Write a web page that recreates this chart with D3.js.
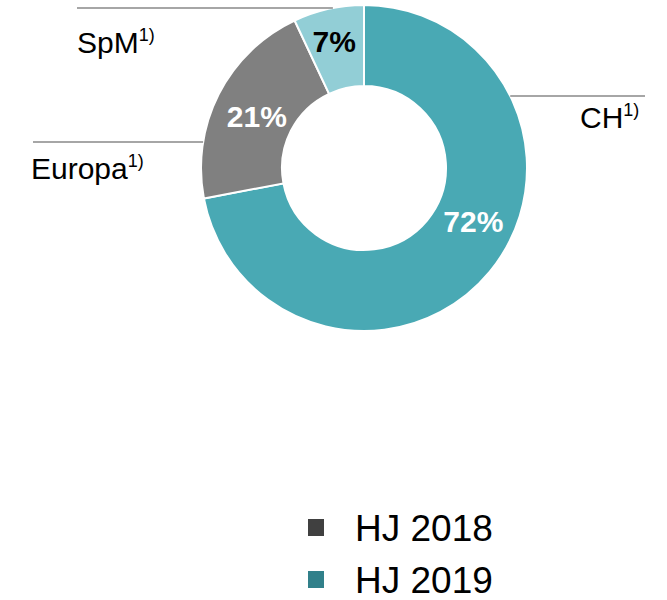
<!DOCTYPE html>
<html>
<head>
<meta charset="utf-8">
<script src="https://cdn.jsdelivr.net/npm/d3@7"></script>
<style>
  body { margin: 0; background: #fff; }
  text { font-family: "Liberation Sans", Arial, sans-serif; }
</style>
</head>
<body>
<svg width="667" height="600"></svg>
<script>
var categories = ['CH', 'Europa', 'SpM'];
var shares = [72, 21, 7];
var sliceColors = ['#49a9b4', '#808080', '#92ced6'];
var valueColors = ['#ffffff', '#ffffff', '#000000'];
var legendLabels = ['HJ 2018', 'HJ 2019'];
var legendColors = ['#404040', '#31808a'];

var svg = d3.select('svg');
var cx = 364, cy = 168;
var outerR = 163, innerR = 82;

var chartG = svg.append('g')
    .attr('transform', 'translate(' + [cx, cy] + ')');

var pie = d3.pie().sort(null).value(function(d) { return d; });
var arc = d3.arc().innerRadius(innerR).outerRadius(outerR);
var arcs = pie(shares);

chartG.selectAll('path.slice')
    .data(arcs)
    .enter()
    .append('path')
    .attr('class', 'slice')
    .attr('d', arc)
    .attr('fill', function(d, i) { return sliceColors[i]; })
    .attr('stroke', '#fff')
    .attr('stroke-width', 2);

// value labels: centroid plus a small nudge (CH, Europa, SpM)
var nudge = [[15, -25], [2, 4], [-3, -7]];
chartG.selectAll('text.value')
    .data(arcs)
    .enter()
    .append('text')
    .attr('class', 'value')
    .attr('x', function(d, i) { return arc.centroid(d)[0] + nudge[i][0]; })
    .attr('y', function(d, i) { return arc.centroid(d)[1] + nudge[i][1] + 11; })
    .attr('text-anchor', 'middle')
    .style('font-size', '30px')
    .style('font-weight', 'bold')
    .style('fill', function(d, i) { return valueColors[i]; })
    .text(function(d) { return d.data + '%'; });

// category labels with leader lines
var labelPos = [
  {lineY: 96, x: 580, base: 128, side: 'right', end: 645},
  {lineY: 142, x: 31, base: 179, side: 'left', end: 33},
  {lineY: 8, x: 77, base: 53, side: 'left', end: 77}
];

labelPos.forEach(function(p, i) {
  var dy = p.lineY - cy;
  var dx = Math.sqrt(outerR * outerR - dy * dy);
  var edge = p.side === 'right' ? cx + dx : cx - dx;
  svg.append('line')
      .attr('x1', p.end).attr('x2', edge)
      .attr('y1', p.lineY).attr('y2', p.lineY)
      .attr('stroke', '#a6a6a6')
      .attr('stroke-width', 2);

  var t = svg.append('text')
      .attr('x', p.x)
      .attr('y', p.base)
      .style('font-size', '30px')
      .style('fill', '#000');
  t.append('tspan').text(categories[i]);
  t.append('tspan')
      .attr('dy', -12)
      .style('font-size', '18px')
      .text('1)');
});

var legend = svg.append('g').attr('class', 'legend');
var legendY = d3.scalePoint().domain(legendLabels).range([527, 579]);

legend.selectAll('rect')
    .data(legendLabels)
    .enter()
    .append('rect')
    .attr('x', 308)
    .attr('y', function(d) { return legendY(d) - 8; })
    .attr('width', 16)
    .attr('height', 17)
    .attr('fill', function(d, i) { return legendColors[i]; });

legend.selectAll('text')
    .data(legendLabels)
    .enter()
    .append('text')
    .attr('x', 355)
    .attr('y', function(d) { return legendY(d) + 14; })
    .style('font-size', '37px')
    .style('fill', '#000')
    .text(function(d) { return d; });
</script>
</body>
</html>
